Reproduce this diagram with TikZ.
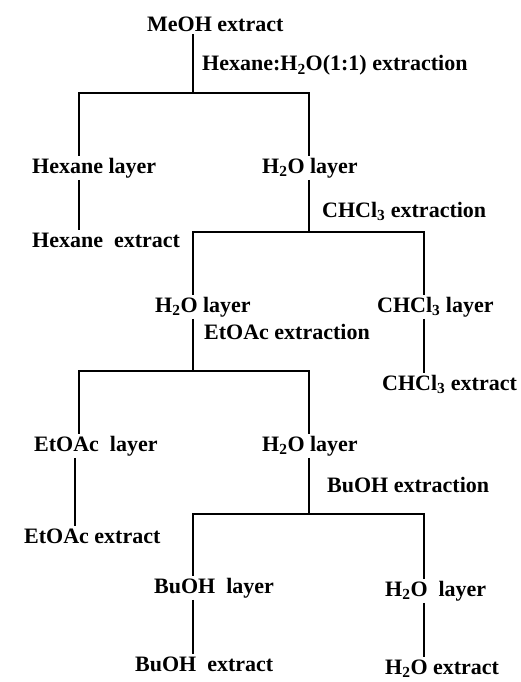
\documentclass[tikz,border=0pt]{standalone}
\usepackage{fontspec}
\setmainfont{Liberation Serif}
\usepackage{tikz}
\usetikzlibrary{calc}

\newcommand{\water}{H\textsubscript{2}O}
\newcommand{\chl}{CHCl\textsubscript{3}}

\begin{document}
\begin{tikzpicture}[x=1pt, y=1pt,
    lbl/.style={font=\fontsize{22}{26}\selectfont\bfseries, inner sep=2pt, anchor=base west},
    link/.style={line width=1.4pt}]
  \useasboundingbox (0,0) rectangle (521,-682);
  % solvents and fractions
  \node[lbl] (meoh) at (145,-32) {MeOH extract};
  \node[lbl] (s1) at (200,-71) {Hexane:\water(1:1) extraction};
  \node[lbl] (hexl) at (30,-173) {Hexane layer};
  \node[lbl] (wa) at (260,-173) {\water{} layer};
  \node[lbl] (s2) at (320,-217) {\chl{} extraction};
  \node[lbl] (hexe) at (30,-247) {Hexane\ \ extract};
  \node[lbl] (wb) at (153,-312) {\water{} layer};
  \node[lbl] (chll) at (375,-312) {\chl{} layer};
  \node[lbl] (s3) at (202,-339) {EtOAc extraction};
  \node[lbl] (chle) at (380,-390) {\chl{} extract};
  \node[lbl] (etl) at (32,-451) {EtOAc\ \ layer};
  \node[lbl] (wc) at (260,-451) {\water{} layer};
  \node[lbl] (s4) at (325,-492) {BuOH extraction};
  \node[lbl] (ete) at (22,-543) {EtOAc extract};
  \node[lbl] (bul) at (152,-593) {BuOH\ \ layer};
  \node[lbl] (wd) at (383,-596) {\water\ \ layer};
  \node[lbl] (bue) at (133,-671) {BuOH\ \ extract};
  \node[lbl] (we) at (383,-674) {\water{} extract};

  % branch points
  \coordinate (j1) at (193,-93);  \coordinate (l1) at (79,-93);  \coordinate (r1) at (309,-93);
  \coordinate (j2) at (309,-232); \coordinate (l2) at (193,-232); \coordinate (r2) at (424,-232);
  \coordinate (j3) at (193,-371); \coordinate (l3) at (79,-371);  \coordinate (r3) at (309,-371);
  \coordinate (j4) at (309,-514); \coordinate (l4) at (193,-514); \coordinate (r4) at (424,-514);

  \draw[link] (meoh.south -| j1) -- (j1);
  \draw[link] (l1 |- hexl.north) |- (r1) -- (r1 |- wa.north);
  \draw[link] (l1 |- hexl.south) -- (l1 |- hexe.north);
  \draw[link] (wa.south -| j2) -- (j2);
  \draw[link] (l2 |- wb.north) |- (r2) -- (r2 |- chll.north);
  \draw[link] (r2 |- chll.south) -- (r2 |- chle.north);
  \draw[link] (wb.south -| j3) -- (j3);
  \draw[link] (l3 |- etl.north) |- (r3) -- (r3 |- wc.north);
  \draw[link] (75,0 |- etl.south) -- (75,0 |- ete.north);
  \draw[link] (wc.south -| j4) -- (j4);
  \draw[link] (l4 |- bul.north) |- (r4) -- (r4 |- wd.north);
  \draw[link] (l4 |- bul.south) -- (l4 |- bue.north);
  \draw[link] (r4 |- wd.south) -- (r4 |- we.north);
\end{tikzpicture}
\end{document}
